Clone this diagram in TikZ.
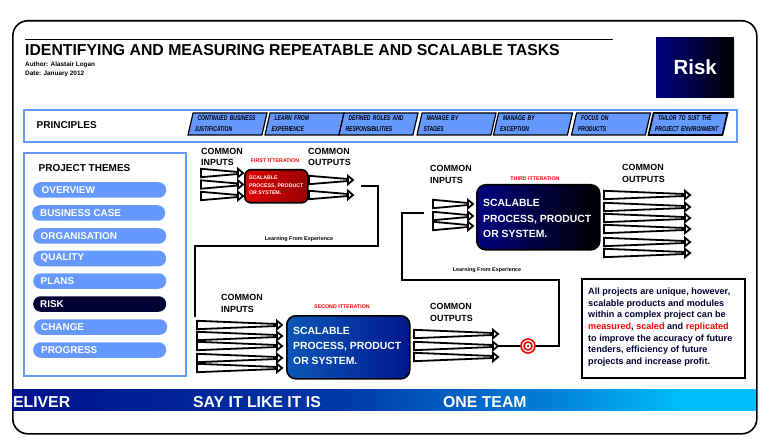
\documentclass[tikz,border=0pt]{standalone}
\usepackage{fontspec}
\setmainfont{Liberation Sans}
\newfontfamily\tagfont[FakeStretch=0.72]{Liberation Sans}
\usetikzlibrary{shapes.geometric}
\definecolor{themeblue}{HTML}{6699FF}
\definecolor{riskink}{HTML}{000033}
\definecolor{targetred}{HTML}{EE1111}
\definecolor{bandnavy}{HTML}{00108C}
\definecolor{bandblue}{HTML}{0038A8}
\definecolor{bandmid}{HTML}{0084DC}
\definecolor{bandsky}{HTML}{00BFFA}
\definecolor{sptwoleft}{HTML}{0B57B8}
\definecolor{sptworight}{HTML}{00188C}
\pgfdeclarehorizontalshading{bandshade}{100bp}{color(0bp)=(bandnavy); color(25bp)=(bandnavy); color(47bp)=(bandblue); color(62bp)=(bandmid); color(70bp)=(bandsky); color(100bp)=(bandsky)}
\tikzset{txt/.style={inner sep=0pt,anchor=west,align=left,font=\bfseries\fontsize{8.9}{11.7}\selectfont}}
\tikzset{tag/.style={trapezium,trapezium left angle=73,trapezium right angle=107,trapezium stretches=true,minimum width=79pt,minimum height=22pt,inner sep=0pt,text width=66pt,align=left,draw,line width=1.2pt,fill=themeblue,font=\tagfont\bfseries\itshape\fontsize{7}{11}\selectfont}}
\tikzset{pill/.style={rounded corners=7.5pt,minimum width=133pt,minimum height=15.5pt,inner sep=0pt,fill=themeblue,text=white,anchor=west}}
\tikzset{pilltxt/.style={txt,text=white,font=\bfseries\fontsize{9.9}{11}\selectfont}}
\tikzset{iter/.style={inner sep=0pt,text=red,font=\bfseries\fontsize{5.3}{6}\selectfont}}
\tikzset{learn/.style={inner sep=0pt,font=\bfseries\fontsize{5.4}{6}\selectfont}}
\tikzset{proc/.style={draw,line width=1.6pt,rounded corners=9pt,inner sep=0pt,anchor=north west}}
\tikzset{proctxt/.style={txt,text=white,font=\bfseries\fontsize{10.4}{15.4}\selectfont}}
\tikzset{feedline/.style={draw,fill=white,line width=1.8pt,line join=miter}}
\tikzset{loopline/.style={line width=1.6pt}}
\tikzset{ring/.style={circle,draw=targetred,fill=white,line width=1.7pt,inner sep=0pt}}
\tikzset{bandtxt/.style={txt,text=white,font=\bfseries\fontsize{15.8}{17}\selectfont}}
\newcommand{\feed}[4]{%
  \coordinate (#1s) at (#2,#4);
  \coordinate (#1e) at (#3,#4);
  \path[feedline] (#2,#4-4.2) -- (#3-5,#4-1) -- (#3-5,#4-4.2) -- (#1e) -- (#3-5,#4+4.2) -- (#3-5,#4+1) -- (#2,#4+4.2) -- cycle;}
\begin{document}
\begin{tikzpicture}[x=1pt,y=-1pt]
  \useasboundingbox (0,0) rectangle (780,441);
  % frame and header
  \node[draw,line width=1.6pt,rounded corners=15pt,minimum width=744pt,minimum height=413pt,inner sep=0pt,anchor=north west] (frame) at (12,20) {};
  \coordinate (rulea) at (25,39);
  \coordinate (ruleb) at (613,39);
  \draw[line width=0.8pt] (rulea) -- (ruleb);
  \node[txt,font=\bfseries\fontsize{15.8}{18}\selectfont] (title) at (25,50) {IDENTIFYING AND MEASURING REPEATABLE AND SCALABLE TASKS};
  \node[txt,font=\bfseries\fontsize{6.4}{9}\selectfont] (author) at (25,69) {Author: Alastair Logan\\Date: January 2012};
  \node[minimum width=78pt,minimum height=60pt,inner sep=0pt,anchor=north west,left color=blue!50!black,right color=black,text=white,font=\bfseries\fontsize{20.5}{22}\selectfont] (risk) at (656,37) {\raisebox{1pt}{Risk}};
  % principles
  \node[draw=themeblue,line width=2pt,minimum width=713pt,minimum height=32pt,inner sep=0pt,anchor=north west] (principles) at (23,109) {};
  \node[txt,font=\bfseries\fontsize{10}{11}\selectfont] (ptitle) at (36.5,125.5) {PRINCIPLES};
  \node[tag] (p1) at (227.5,124) {\hspace*{3pt}CONTINUED BUSINESS\\JUSTIFICATION};
  \node[tag] (p2) at (304.5,124) {\hspace*{3pt}LEARN FROM\\EXPERIENCE};
  \node[tag] (p3) at (378.5,124) {\hspace*{3pt}DEFINED ROLES AND\\RESPONSIBILITIES};
  \node[tag] (p4) at (456.5,124) {\hspace*{3pt}MANAGE BY\\STAGES};
  \node[tag] (p5) at (533,124) {\hspace*{3pt}MANAGE BY\\EXCEPTION};
  \node[tag] (p6) at (611,124) {\hspace*{3pt}FOCUS ON\\PRODUCTS};
  \node[tag,line width=1.7pt] (p7) at (688,124) {\hspace*{3pt}TAILOR TO SUIT THE\\PROJECT ENVIRONMENT};
  % themes
  \node[draw=themeblue,line width=2pt,minimum width=162pt,minimum height=223pt,inner sep=0pt,anchor=north west] (themes) at (23,152) {};
  \node[txt,font=\bfseries\fontsize{10}{11}\selectfont] (ttitle) at (38.5,168) {PROJECT THEMES};
  \node[pill] (t1) at (33,190) {};
  \node[pill] (t2) at (32,213) {};
  \node[pill] (t3) at (33,236) {};
  \node[pill] (t4) at (33,258.5) {};
  \node[pill] (t5) at (33,281) {};
  \node[pill,fill=riskink] (t6) at (33,304) {};
  \node[pill] (t7) at (34,327) {};
  \node[pill] (t8) at (33,350) {};
  \node[pilltxt] at (41.5,190) {OVERVIEW};
  \node[pilltxt] at (40,213.5) {BUSINESS CASE};
  \node[pilltxt] at (40.5,236.5) {ORGANISATION};
  \node[pilltxt] at (40.5,258.5) {QUALITY};
  \node[pilltxt] at (40.5,281) {PLANS};
  \node[pilltxt] at (40,304.5) {RISK};
  \node[pilltxt] at (41,327.5) {CHANGE};
  \node[pilltxt] at (41,350.5) {PROGRESS};
  % first iteration
  \node[txt] (ci1) at (201,157) {COMMON\\INPUTS};
  \node[txt] (co1) at (308,157) {COMMON\\OUTPUTS};
  \node[iter] (it1) at (275,161) {FIRST ITTERATION};
  \feed{ia}{201}{243}{173}
  \feed{ib}{201}{243}{184.5}
  \feed{ic}{201}{243}{196}
  \feed{oa}{309}{353}{180}
  \feed{ob}{309}{353}{195}
  \node[proc,minimum width=63pt,minimum height=33pt,left color=red!87!black,right color=red!60!black,rounded corners=6pt] (sp1) at (244,169) {};
  \node[txt,text=white,font=\bfseries\fontsize{5.2}{7.7}\selectfont] at (249,185.5) {SCALABLE\\PROCESS, PRODUCT\\OR SYSTEM.};
  % second iteration
  \node[txt] (ci2) at (221,303.5) {COMMON\\INPUTS};
  \node[txt] (co2) at (430,312.5) {COMMON\\OUTPUTS};
  \node[iter] (it2) at (342,307) {SECOND ITTERATION};
  \feed{ja}{197}{282}{325}
  \feed{jb}{197}{282}{336}
  \feed{jc}{197}{282}{346}
  \feed{jd}{197}{282}{358}
  \feed{je}{197}{282}{368}
  \feed{pa}{414}{498}{334}
  \feed{pb}{414}{498}{346}
  \feed{pc}{414}{498}{357}
  \node[proc,minimum width=123pt,minimum height=63pt,left color=sptwoleft,right color=sptworight] (sp2) at (286,315) {};
  \node[proctxt] at (293,346) {SCALABLE\\PROCESS, PRODUCT\\OR SYSTEM.};
  % third iteration
  \node[txt] (ci3) at (430,174.5) {COMMON\\INPUTS};
  \node[txt] (co3) at (622,173.5) {COMMON\\OUTPUTS};
  \node[iter] (it3) at (535,179) {THIRD ITTERATION};
  \feed{ka}{433}{473}{204}
  \feed{kb}{433}{473}{216}
  \feed{kc}{433}{473}{226}
  \feed{qa}{604}{690}{195}
  \feed{qb}{604}{690}{207}
  \feed{qc}{604}{690}{218}
  \feed{qd}{604}{690}{229}
  \feed{qe}{604}{690}{242}
  \feed{qf}{604}{690}{253}
  \node[proc,minimum width=123pt,minimum height=65pt,left color=blue!50!black,right color=black] (sp3) at (476,184) {};
  \node[proctxt] at (483,218.5) {SCALABLE\\PROCESS, PRODUCT\\OR SYSTEM.};
  % learning loops
  \node[learn] (la) at (299,239) {Learning From Experience};
  \node[learn] (lb) at (487,270) {Learning From Experience};
  \coordinate (loopa) at (361,186);
  \coordinate (loopb) at (378,246);
  \coordinate (loopc) at (195,317);
  \draw[loopline] (loopa) -| (loopb) -| (loopc);
  \coordinate (loopd) at (424,213);
  \coordinate (loope) at (402,280);
  \coordinate (loopf) at (559,346);
  \draw[loopline] (loopd) -| (loope) -| (loopf) -- (pbe);
  \node[ring,minimum size=14pt] (target) at (528,346) {};
  \node[ring,minimum size=8pt] (bull) at (target) {};
  \node[circle,fill=targetred!70!black,minimum size=2.5pt,inner sep=0pt] (eye) at (target) {};
  % note
  \node[draw,line width=1.6pt,minimum width=163pt,minimum height=99pt,inner sep=0pt,anchor=north west] (notebox) at (581,278) {};
  \node[txt,text=riskink,font=\bfseries\fontsize{9.1}{11.65}\selectfont] (note) at (588,327) {All projects are unique, however,\\scalable products and modules\\within a complex project can be\\\textcolor{red}{measured}, \textcolor{red}{scaled} and \textcolor{red}{replicated}\\to improve the accuracy of future\\tenders, efficiency of future\\projects and increase profit.};
  % band
  \node[shading=bandshade,minimum width=744pt,minimum height=21pt,inner sep=0pt,anchor=north west] (band) at (12,389) {};
  \node[bandtxt] (b1) at (1.5,402.5) {DELIVER};
  \node[bandtxt] (b2) at (193,402.5) {SAY IT LIKE IT IS};
  \node[bandtxt] (b3) at (443,402.5) {ONE TEAM};
\end{tikzpicture}
\end{document}
